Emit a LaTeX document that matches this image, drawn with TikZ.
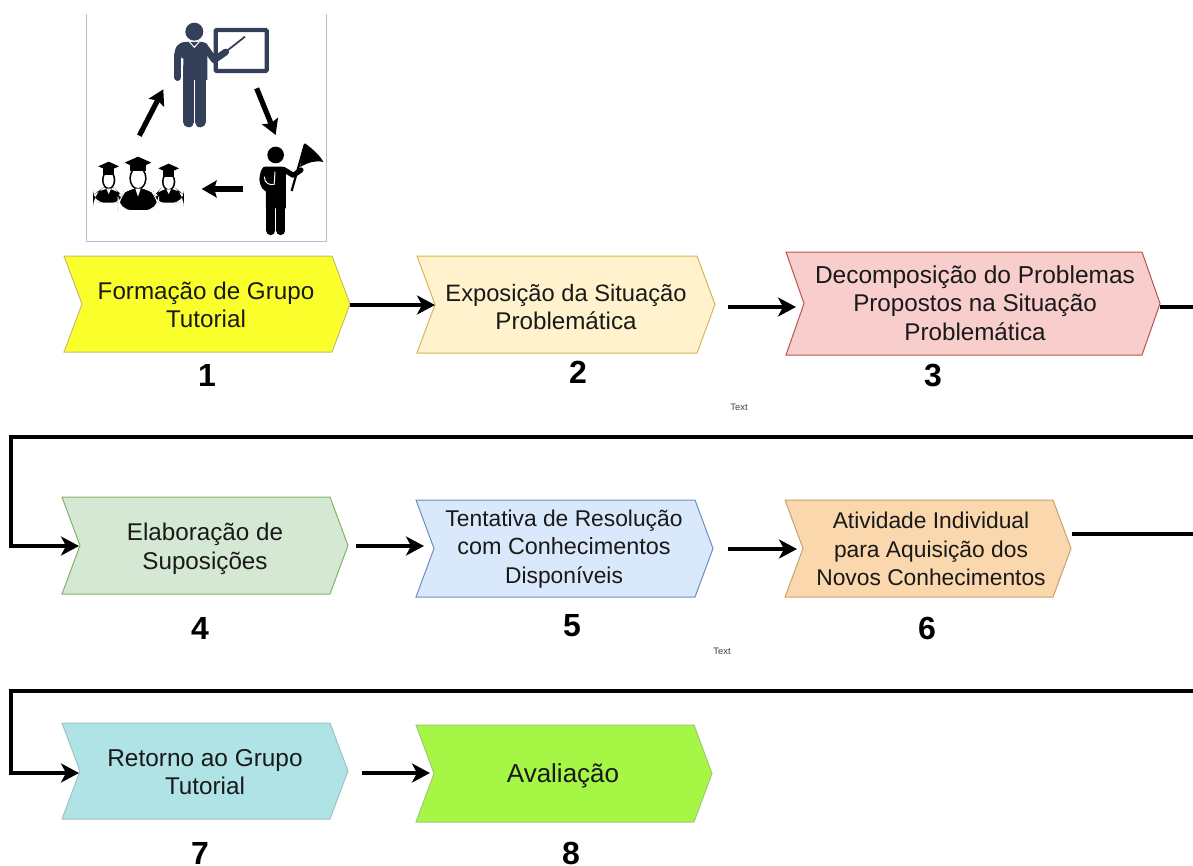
\documentclass[tikz,border=0pt]{standalone}
\usepackage{fontspec}
\setmainfont{Liberation Sans}
\usetikzlibrary{arrows.meta}
\definecolor{slate}{HTML}{34405A}
\definecolor{fa}{HTML}{FAFF2B}\definecolor{da}{HTML}{C9BC6A}
\definecolor{fb}{HTML}{FFF2CC}\definecolor{db}{HTML}{D6B656}
\definecolor{fc}{HTML}{F8CECC}\definecolor{dc}{HTML}{B85450}
\definecolor{fd}{HTML}{D5E8D4}\definecolor{dd}{HTML}{82B366}
\definecolor{fe}{HTML}{DAE8FC}\definecolor{de}{HTML}{6C8EBF}
\definecolor{ff}{HTML}{FAD7AC}\definecolor{df}{HTML}{C9A26E}
\definecolor{fg}{HTML}{B0E3E6}\definecolor{dg}{HTML}{9CC4C6}
\definecolor{fh}{HTML}{A6F745}\definecolor{dh}{HTML}{A0C878}
\tikzset{
  flow/.style={line width=4.4pt,draw=black},
  flowarrow/.style={flow,-{Stealth[length=18pt,width=19pt,inset=5pt]}},
  chevtext/.style={font=\fontsize{24.2}{28.6}\selectfont,align=center,text=black!90,inner sep=0pt},
  stepnum/.style={font=\fontsize{32}{32}\selectfont\bfseries,inner sep=0pt},
  tinytext/.style={font=\fontsize{9.4}{10}\selectfont,text=black!75,inner sep=0pt},
  iconarrow/.style={line width=5.2pt,draw=black,-{Stealth[length=15pt,width=17pt,inset=2.5pt]}},
  limb/.style={line cap=round,line join=round},
}
% name, fill, border, left, right, top, bottom, text centre x, text centre y, text
\newcommand{\chevbox}[9]{%
  \path[fill=#2,draw=#3,line width=1pt]
    (#4,#6) -- ({#5-18},#6) -- (#5,{(#6+#7)/2}) -- ({#5-18},#7) -- (#4,#7) -- ({#4+18},{(#6+#7)/2}) -- cycle;
  \coordinate (#1in) at ({#4+18},{(#6+#7)/2});
  \coordinate (#1out) at (#5,{(#6+#7)/2});
  \node[chevtext] (#1) at (#8,#9)
}
\newcommand{\smallfs}{\fontsize{22.8}{27.4}\selectfont}
\newcommand{\midfs}{\fontsize{23.4}{27.4}\selectfont}
\begin{document}
\begin{tikzpicture}[x=1pt,y=-1pt]
\useasboundingbox (0,0) rectangle (1193,865);

% picture frame
\draw[draw=black!25,line width=1pt] (86.5,14) -- (86.5,241.5) -- (326.5,241.5) -- (326.5,14);

% icon group, in 3x crop coordinates
\begin{scope}[shift={(80,0)},x=0.3333pt,y=-0.3333pt]
  % teacher
  \draw[slate,line width=4.3pt,rounded corners=1pt] (407,90) rectangle (560,213);
  \draw[slate,line width=1.8pt] (425,165) -- (495,110);
  \fill[slate] (283,170) .. controls (283,140) and (295,126) .. (318,126) -- (368,126)
     -- (382,132) -- (382,240) -- (310,240) -- (310,175) -- (304,175) -- (304,170) -- cycle;
  \draw[slate,limb,line width=7.3pt] (293,165) -- (293,232);
  \draw[slate,limb,line width=10.8pt] (326,200) -- (326,366);
  \draw[slate,limb,line width=10.8pt] (361,200) -- (361,366);
  \draw[slate,limb,line width=6.7pt] (372,138) -- (403,180) -- (437,156);
  \draw[white,line width=0.8pt] (343.5,245) -- (343.5,385);
  \draw[white,line width=1pt] (328,125) -- (343,142) -- (358,125);
  \fill[slate] (343,95) circle (27);
  % cycle arrows
  \coordinate (ia) at (178,407); \coordinate (ib) at (250,268);
  \coordinate (ic) at (530,265); \coordinate (id) at (587,405);
  \coordinate (ie) at (490,567); \coordinate (if) at (365,567);
  \draw[iconarrow] (ia) -- (ib);
  \draw[iconarrow] (ic) -- (id);
  \draw[iconarrow] (ie) -- (if);
  % flag bearer
  \fill[black] (587,465) circle (25);
  \fill[black] (555,500) -- (605,500) .. controls (615,500) and (618,508) .. (618,520) -- (618,625) -- (558,625) -- (558,575)
     .. controls (540,565) and (535,540) .. (540,525) .. controls (543,510) and (548,500) .. (555,500) -- cycle;
  \draw[black,limb,line width=9pt] (573,600) -- (573,692);
  \draw[black,limb,line width=9pt] (603,600) -- (603,692);
  \draw[black,limb,line width=5.2pt] (610,508) -- (640,526) -- (663,510);
  \draw[white,line width=1pt] (585,515) -- (583,550);
  \draw[white,line width=1pt] (553,530) .. controls (553,550) and (570,558) .. (585,552);
  \draw[black,line width=2.2pt] (635,573) -- (675,432);
  \fill[black] (675,430) .. controls (695,445) and (720,465) .. (730,486) .. controls (705,480) and (685,488) .. (660,501) -- cycle;
  % graduates
  \fill[black,rounded corners=12] (85,608) -- (39,608) -- (39,585) -- (70,563) -- (102,563) -- (130,590) -- (130,608) -- cycle;
  \fill[black,rounded corners=12] (266,608) -- (220,608) -- (220,590) -- (245,563) -- (285,563) -- (312,585) -- (312,608) -- cycle;
  \fill[black,rounded corners=14,draw=white,line width=0.8pt] (174,632) -- (114,632) -- (114,590) -- (150,560) -- (200,560) -- (236,590) -- (236,632) -- cycle;
  \foreach \cx/\cy/\rx/\ry/\cw/\ch in {174/535/21/29/40/18, 86/540/15/23/31/14, 266/545/15/22/31/14}{
    \fill[black] (\cx,\cy) ellipse [x radius=\rx+5, y radius=\ry+5];
    \fill[white] (\cx,\cy) ellipse [x radius=\rx, y radius=\ry];
    \fill[black] ({\cx-\rx-2},{\cy-\ry-12}) rectangle ({\cx+\rx+2},{\cy-\ry+8});
    \fill[black] ({\cx-\cw},{\cy-\ry-18}) -- (\cx,{\cy-\ry-18-\ch}) -- ({\cx+\cw},{\cy-\ry-18}) -- (\cx,{\cy-\ry-18+\ch}) -- cycle;
  }
  \fill[white] (166,566) -- (182,566) -- (174,590) -- cycle;
  \fill[white] (79,566) -- (93,566) -- (86,582) -- cycle;
  \fill[white] (259,568) -- (273,568) -- (266,582) -- cycle;
\end{scope}

% process steps
\chevbox{a}{fa}{da}{64}{350}{256}{352}{206}{305} {Formação de Grupo\\Tutorial};
\chevbox{b}{fb}{db}{417}{715}{256}{353}{566}{307} {\fontsize{23.7}{28.4}\selectfont Exposição da Situação\\Problemática};
\chevbox{c}{fc}{dc}{786}{1160}{252}{355}{975}{303} {\fontsize{24.5}{28.8}\selectfont Decomposição do Problemas\\Propostos na Situação\\Problemática};
\chevbox{d}{fd}{dd}{62}{348}{497}{594}{205}{549} {Elaboração de\\Suposições};
\chevbox{e}{fe}{de}{416}{713}{500}{597}{564}{549} {\smallfs Tentativa de Resolução\\{\midfs com Conhecimentos}\\{\smallfs Disponíveis}};
\chevbox{f}{ff}{df}{785}{1071}{500}{597}{931}{549} {\smallfs Atividade Individual\\{\smallfs para Aquisição dos}\\{\smallfs Novos Conhecimentos}};
\chevbox{g}{fg}{dg}{62}{348}{723}{819}{205}{772} {\fontsize{24.4}{28.6}\selectfont Retorno ao Grupo\\Tutorial};
\chevbox{h}{fh}{dh}{416}{712}{725}{822}{563}{776} {\fontsize{26}{30}\selectfont Avaliação};

% numbers and stray labels
\node[stepnum] (n1) at (207,375) {1};
\node[stepnum] (n2) at (578,372) {2};
\node[stepnum] (n3) at (933,375) {3};
\node[stepnum] (n4) at (200,628) {4};
\node[stepnum] (n5) at (572,625.5) {5};
\node[stepnum] (n6) at (927,628) {6};
\node[stepnum] (n7) at (200,853.4) {7};
\node[stepnum] (n8) at (571,853.4) {8};
\node[tinytext] (t1) at (739,407) {Text};
\node[tinytext] (t2) at (722,651) {Text};

% connectors
\coordinate (astart) at (350,305);
\coordinate (btip) at (435,305);
\coordinate (bgap) at (728,307);
\coordinate (ctip) at (796,307);
\coordinate (cstart) at (1160,307);
\coordinate (cend) at (1193,307);
\coordinate (row2s) at (1193,437);
\coordinate (row2c) at (11,437);
\coordinate (row2d) at (11,546);
\coordinate (dtip) at (79,546);
\coordinate (dgap) at (356,546);
\coordinate (etip) at (424,546);
\coordinate (egap) at (728,549);
\coordinate (ftip) at (797,549);
\coordinate (fout) at (1072,534);
\coordinate (fend) at (1193,534);
\coordinate (row3s) at (1193,691);
\coordinate (row3c) at (11,691);
\coordinate (row3d) at (11,773);
\coordinate (gtip) at (79,773);
\coordinate (ggap) at (362,773);
\coordinate (htip) at (430,773);
\draw[flowarrow] (astart) -- (btip);
\draw[flowarrow] (bgap) -- (ctip);
\draw[flow] (cstart) -- (cend);
\draw[flowarrow] (row2s) -- (row2c) -- (row2d) -- (dtip);
\draw[flowarrow] (dgap) -- (etip);
\draw[flowarrow] (egap) -- (ftip);
\draw[flow] (fout) -- (fend);
\draw[flowarrow] (row3s) -- (row3c) -- (row3d) -- (gtip);
\draw[flowarrow] (ggap) -- (htip);
\end{tikzpicture}
\end{document}
